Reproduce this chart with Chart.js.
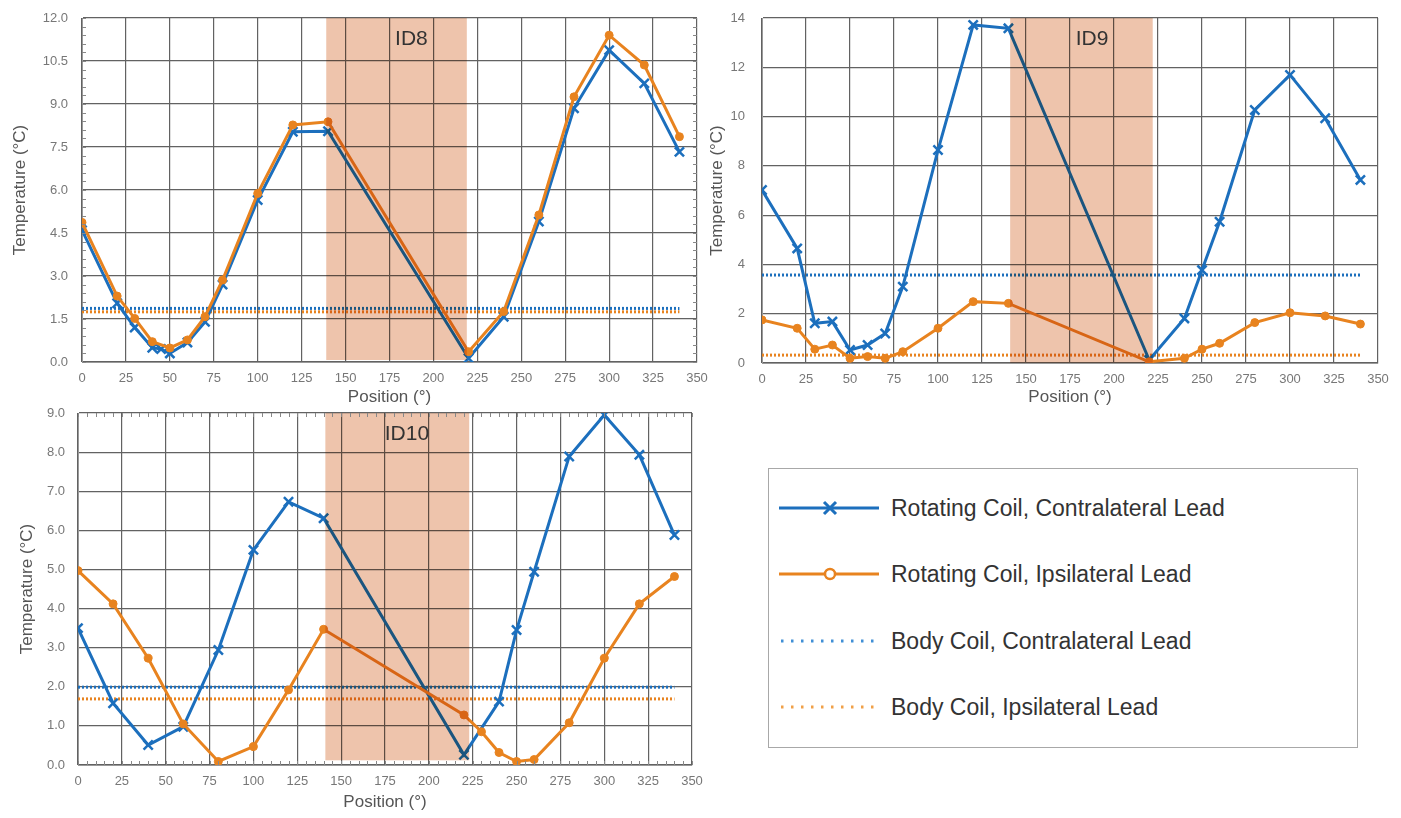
<!DOCTYPE html>
<html>
<head>
<meta charset="utf-8">
<script src="https://cdn.jsdelivr.net/npm/chart.js@4.4.1/dist/chart.umd.min.js"></script>
<style>
  body { margin: 0; background: #fff; width: 1401px; height: 818px; position: relative; overflow: hidden; font-family: "Liberation Sans", Arial, sans-serif; }
  .wrap { position: absolute; }
  #legend { position: absolute; left: 768px; top: 468px; width: 590px; height: 280px; border: 1px solid #a8a8a8; box-sizing: border-box; }
  .row { position: absolute; left: 0; height: 30px; display: flex; align-items: center; }
  .row svg { margin-left: 10px; }
  .row span { margin-left: 12px; font-size: 23px; color: #333; }
</style>
</head>
<body>
<div class="wrap" style="left:0;top:0;width:710px;height:410px"><canvas id="id8" width="710" height="410"></canvas></div>
<div class="wrap" style="left:705px;top:0;width:696px;height:410px"><canvas id="id9" width="696" height="410"></canvas></div>
<div class="wrap" style="left:0;top:403px;width:705px;height:415px"><canvas id="id10" width="705" height="415"></canvas></div>
<div id="legend"></div>

<script>
// series names
const seriesNames = [
  "Rotating Coil, Contralateral Lead",
  "Rotating Coil, Ipsilateral Lead",
  "Body Coil, Contralateral Lead",
  "Body Coil, Ipsilateral Lead"
];

// body coil lines run across these positions
const bodyX = [0, 340];

// ID8
const id8ContraX = [0, 20, 30, 40, 45, 50, 60, 70, 80, 100, 120, 140, 220, 240, 260, 280, 300, 320, 340];
const id8Contra = [4.6, 2.05, 1.2, 0.5, 0.45, 0.3, 0.68, 1.4, 2.7, 5.65, 8.03, 8.05, 0.13, 1.58, 4.9, 8.85, 10.88, 9.72, 7.33];
const id8IpsiX = [0, 20, 30, 40, 50, 60, 70, 80, 100, 120, 140, 220, 240, 260, 280, 300, 320, 340];
const id8Ipsi = [4.87, 2.3, 1.52, 0.71, 0.49, 0.77, 1.58, 2.86, 5.88, 8.27, 8.38, 0.36, 1.76, 5.13, 9.25, 11.4, 10.36, 7.86];
const id8Body = [1.87, 1.75];
const id8Shade = [139, 219, 0.07];

// ID9
const id9X = [0, 20, 30, 40, 50, 60, 70, 80, 100, 120, 140, 220, 240, 250, 260, 280, 300, 320, 340];
const id9Contra = [7.02, 4.65, 1.61, 1.68, 0.53, 0.73, 1.2, 3.1, 8.64, 13.72, 13.58, 0.12, 1.81, 3.77, 5.73, 10.27, 11.69, 9.93, 7.43];
const id9Ipsi = [1.75, 1.41, 0.56, 0.73, 0.19, 0.26, 0.19, 0.46, 1.41, 2.49, 2.42, 0.05, 0.19, 0.56, 0.8, 1.64, 2.04, 1.91, 1.58];
const id9Body = [3.57, 0.32];
const id9Shade = [141, 222, 0];

// ID10
const id10ContraX = [0, 20, 40, 60, 80, 100, 120, 140, 220, 240, 250, 260, 280, 300, 320, 340];
const id10Contra = [3.5, 1.58, 0.51, 0.98, 2.94, 5.5, 6.73, 6.31, 0.26, 1.62, 3.45, 4.94, 7.89, 8.95, 7.93, 5.88];
const id10IpsiX = [0, 20, 40, 60, 80, 100, 120, 140, 220, 230, 240, 250, 260, 280, 300, 320, 340];
const id10Ipsi = [4.97, 4.12, 2.73, 1.05, 0.09, 0.47, 1.92, 3.47, 1.28, 0.85, 0.32, 0.09, 0.14, 1.08, 2.73, 4.12, 4.82];
const id10Body = [1.99, 1.69];
const id10Shade = [141, 223, 0.12];

const BLUE = "#1c6fbd";
const ORANGE = "#e8831f";
const SHADE = "#eec4ac";
const NOTICK = "rgba(0,0,0,0)";

const pts = (xs, ys) => xs.map((x, i) => ({ x: x, y: ys[i] }));

// shaded band (multiplied over grid and lines) + ID label
const bandPlugin = {
  id: "band",
  afterDatasetsDraw(chart, args, opts) {
    const { ctx, chartArea, scales: { x, y } } = chart;
    ctx.save();
    ctx.beginPath();
    ctx.rect(chartArea.left, chartArea.top, chartArea.width, chartArea.height);
    ctx.clip();
    ctx.globalCompositeOperation = "multiply";
    ctx.fillStyle = SHADE;
    const x0 = x.getPixelForValue(opts.range[0]);
    const x1 = x.getPixelForValue(opts.range[1]);
    const yb = y.getPixelForValue(opts.range[2]);
    ctx.fillRect(x0, chartArea.top, x1 - x0, yb - chartArea.top);
    ctx.restore();

    ctx.save();
    ctx.fillStyle = "#333";
    ctx.font = "21px 'Liberation Sans', Arial, sans-serif";
    ctx.textAlign = "center";
    ctx.textBaseline = "middle";
    ctx.fillText(opts.label, x.getPixelForValue(187.5), chartArea.top + 21);
    ctx.restore();
  }
};

// small minor tick marks along the plot edges
const minorPlugin = {
  id: "minor",
  afterDraw(chart, args, opts) {
    const { ctx, chartArea, scales: { x, y } } = chart;
    ctx.save();
    ctx.strokeStyle = "#888";
    ctx.lineWidth = 1;
    ctx.beginPath();
    if (opts.y) {
      for (let v = y.min; v <= y.max + 1e-9; v += opts.y) {
        const py = Math.round(y.getPixelForValue(v)) + 0.5;
        ctx.moveTo(chartArea.left, py); ctx.lineTo(chartArea.left + 4, py);
        ctx.moveTo(chartArea.right, py); ctx.lineTo(chartArea.right - 4, py);
      }
    }
    if (opts.x) {
      for (let v = x.min; v <= x.max + 1e-9; v += opts.x) {
        const px = Math.round(x.getPixelForValue(v)) + 0.5;
        ctx.moveTo(px, chartArea.bottom); ctx.lineTo(px, chartArea.bottom - 4);
        ctx.moveTo(px, chartArea.top); ctx.lineTo(px, chartArea.top + 4);
      }
    }
    ctx.stroke();
    ctx.restore();
  }
};

function makeChart(id, c) {
  const ctx = document.getElementById(id).getContext("2d");
  return new Chart(ctx, {
    type: "line",
    data: {
      datasets: [
        {
          label: seriesNames[1], data: pts(c.ipsiX, c.ipsi), order: 1,
          borderColor: ORANGE, backgroundColor: ORANGE, borderWidth: 3,
          pointStyle: "circle", pointRadius: 4, pointBorderWidth: 1
        },
        {
          label: seriesNames[0], data: pts(c.contraX, c.contra), order: 2,
          borderColor: BLUE, backgroundColor: BLUE, borderWidth: 3,
          pointStyle: "crossRot", pointRadius: 6.5, pointBorderWidth: 2.5
        },
        {
          label: seriesNames[2], data: pts(bodyX, [c.body[0], c.body[0]]), order: 3,
          borderColor: BLUE, borderWidth: 3, borderDash: [2, 2], pointRadius: 0
        },
        {
          label: seriesNames[3], data: pts(bodyX, [c.body[1], c.body[1]]), order: 4,
          borderColor: ORANGE, borderWidth: 3, borderDash: [2, 2], pointRadius: 0
        }
      ]
    },
    options: {
      responsive: false,
      animation: false,
      layout: { padding: c.pad },
      plugins: {
        legend: { display: false },
        tooltip: { enabled: false },
        band: { range: c.shade, label: c.label },
        minor: c.minor
      },
      scales: {
        x: {
          type: "linear", min: 0, max: 350,
          afterFit: s => { s.height = c.xH; },
          grid: { color: "#626262", lineWidth: 1.2, tickColor: NOTICK, tickLength: c.xTickPad },
          border: { color: "#999" },
          ticks: { stepSize: 25, padding: 0, color: "#777", font: { size: 13, family: "'Liberation Sans', Arial" } },
          title: { display: true, text: "Position (°)", color: "#555", padding: { top: 0, bottom: c.xTitlePad }, font: { size: 17, family: "'Liberation Sans', Arial" } }
        },
        y: {
          min: 0, max: c.yMax,
          afterFit: s => { s.width = c.yW; },
          grid: { color: "#626262", lineWidth: 1.2, tickColor: NOTICK, tickLength: c.yTickPad },
          border: { color: "#999" },
          ticks: {
            stepSize: c.yStep, padding: 0, color: "#777",
            font: { size: 13, family: "'Liberation Sans', Arial" },
            callback: v => c.yDec ? v.toFixed(1) : String(v)
          },
          title: { display: true, text: "Temperature (°C)", color: "#555", padding: { top: c.yTitlePad, bottom: 0 }, font: { size: 17, family: "'Liberation Sans', Arial" } }
        }
      }
    },
    plugins: [bandPlugin, minorPlugin]
  });
}

makeChart("id8", {
  contraX: id8ContraX, contra: id8Contra, ipsiX: id8IpsiX, ipsi: id8Ipsi, body: id8Body,
  shade: id8Shade, label: "ID8", yMax: 12, yStep: 1.5, yDec: true,
  pad: { left: 0, top: 18, right: 13, bottom: 0 }, yW: 82, xH: 48,
  xTickPad: 9, xTitlePad: 2, yTickPad: 14, yTitlePad: 10,
  minor: { y: 0.3 }
});

makeChart("id9", {
  contraX: id9X, contra: id9Contra, ipsiX: id9X, ipsi: id9Ipsi, body: id9Body,
  shade: id9Shade, label: "ID9", yMax: 14, yStep: 2, yDec: false,
  pad: { left: 0, top: 18, right: 23, bottom: 0 }, yW: 57, xH: 47,
  xTickPad: 9, xTitlePad: 2, yTickPad: 17, yTitlePad: 2,
  minor: {}
});

makeChart("id10", {
  contraX: id10ContraX, contra: id10Contra, ipsiX: id10IpsiX, ipsi: id10Ipsi, body: id10Body,
  shade: id10Shade, label: "ID10", yMax: 9, yStep: 1, yDec: true,
  pad: { left: 0, top: 10, right: 13, bottom: 0 }, yW: 78, xH: 53,
  xTickPad: 9, xTitlePad: 5, yTickPad: 13, yTitlePad: 17,
  minor: { x: 5 }
});

// legend box
const legendRows = [
  { name: seriesNames[0], color: BLUE, kind: "cross" },
  { name: seriesNames[1], color: ORANGE, kind: "circle" },
  { name: seriesNames[2], color: "#3f8fd6", kind: "dots" },
  { name: seriesNames[3], color: "#f0a048", kind: "dots" }
];
const legendTop = [24, 90, 157, 223];
const legend = document.getElementById("legend");
legendRows.forEach((r, i) => {
  let sample;
  if (r.kind === "dots") {
    sample = `<line x1="2" y1="15" x2="96" y2="15" stroke="${r.color}" stroke-width="3" stroke-dasharray="2.5 7.5"/>`;
  } else {
    sample = `<line x1="0" y1="15" x2="100" y2="15" stroke="${r.color}" stroke-width="3"/>`;
    if (r.kind === "cross") {
      sample += `<path d="M45 9 L57 21 M57 9 L45 21" stroke="${r.color}" stroke-width="3"/>`;
    } else {
      sample += `<circle cx="51" cy="15" r="5" fill="#fff" stroke="${r.color}" stroke-width="2.5"/>`;
    }
  }
  const row = document.createElement("div");
  row.className = "row";
  row.style.top = legendTop[i] + "px";
  row.innerHTML = `<svg width="100" height="30">${sample}</svg><span>${r.name}</span>`;
  legend.appendChild(row);
});
</script>
</body>
</html>
